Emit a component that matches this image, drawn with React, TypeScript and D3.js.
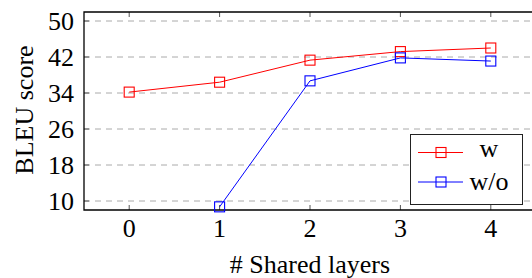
import React from 'react';
import * as d3 from 'd3';

const layers = [0, 1, 2, 3, 4];
const withShared = [34.2, 36.4, 41.3, 43.2, 44.0];
const withoutLayers = [1, 2, 3, 4];
const withoutShared = [8.7, 36.7, 41.8, 41.1];
const yTicks = [10, 18, 26, 34, 42, 50];

const W = 532;
const H = 278;
const left = 84;
const right = 536;
const top = 12;
const bottom = 210;
const font = 'Liberation Serif, DejaVu Serif, serif';

export default function App() {
  const x = d3.scaleLinear().domain([-0.5, 4.5]).range([left, right]);
  const y = d3.scaleLinear().domain([8, 52]).range([bottom, top]);

  const line = d3
    .line<[number, number]>()
    .x((d) => x(d[0]))
    .y((d) => y(d[1]));

  const wPts: [number, number][] = layers.map((l, i) => [l, withShared[i]]);
  const woPts: [number, number][] = withoutLayers.map((l, i) => [l, withoutShared[i]]);

  const series = [
    { name: 'w', color: 'red', pts: wPts },
    { name: 'w/o', color: 'blue', pts: woPts },
  ];

  const ms = 10;
  const fs = 26;

  return (
    <svg
      width={W}
      height={H}
      style={{ position: 'absolute', left: 0, top: 0, fontFamily: font }}
    >
      <rect width={W} height={H} fill="white" />
      {/* grid */}
      {yTicks.map((t) => (
        <line
          key={'g' + t}
          x1={left}
          x2={right}
          y1={y(t)}
          y2={y(t)}
          stroke="#aaa"
          strokeWidth={1}
          strokeDasharray="6 5"
        />
      ))}
      {/* ticks */}
      {yTicks.map((t) => (
        <g key={'yt' + t}>
          <line x1={left} x2={left + 5} y1={y(t)} y2={y(t)} stroke="#555" />
          <text x={left - 10} y={y(t) + 9} textAnchor="end" fontSize={fs} fill="black">
            {t}
          </text>
        </g>
      ))}
      {layers.map((l) => (
        <g key={'xt' + l}>
          <line x1={x(l)} x2={x(l)} y1={bottom} y2={bottom - 5} stroke="#555" />
          <line x1={x(l)} x2={x(l)} y1={top} y2={top + 5} stroke="#555" />
          <text x={x(l)} y={bottom + 27} textAnchor="middle" fontSize={fs} fill="black">
            {l}
          </text>
        </g>
      ))}
      {/* frame */}
      <path
        d={`M${right},${top}H${left}V${bottom}H${right}`}
        fill="none"
        stroke="black"
        strokeWidth={1.3}
      />
      {/* series */}
      {series.map((s) => (
        <g key={s.name}>
          <path d={line(s.pts) || ''} fill="none" stroke={s.color} strokeWidth={1} />
          {s.pts.map((p, i) => (
            <rect
              key={i}
              x={x(p[0]) - ms / 2}
              y={y(p[1]) - ms / 2}
              width={ms}
              height={ms}
              fill="none"
              stroke={s.color}
              strokeWidth={1.1}
            />
          ))}
        </g>
      ))}
      {/* legend */}
      <rect x={410.5} y={134.5} width={112} height={70} fill="white" stroke="#222" strokeWidth={1} />
      {series.map((s, i) => {
        const ly = 152.5 + i * 29.5;
        return (
          <g key={'lg' + s.name}>
            <line x1={418} x2={463} y1={ly} y2={ly} stroke={s.color} />
            <rect x={436} y={ly - 5} width={ms} height={ms} fill="none" stroke={s.color} strokeWidth={1.1} />
            <text x={489} y={ly + (i === 0 ? 4.5 : 8)} textAnchor="middle" fontSize={fs} fill="black">
              {s.name}
            </text>
          </g>
        );
      })}
      {/* axis labels */}
      <text x={310} y={273} textAnchor="middle" fontSize={fs} fill="black">
        # Shared layers
      </text>
      <text
        transform={`translate(33,110) rotate(-90)`}
        textAnchor="middle"
        fontSize={fs}
        fill="black"
      >
        BLEU score
      </text>
    </svg>
  );
}
